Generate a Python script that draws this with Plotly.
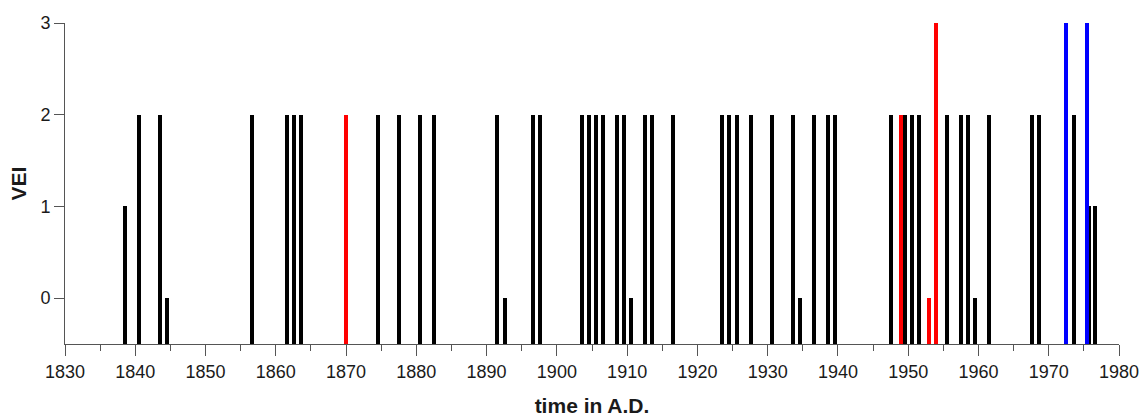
import plotly.graph_objects as go

# ---- data ----
BASE = -0.5  # bars rise from the bottom of the axis

black_years = [1838.55, 1840.55, 1843.55, 1844.55, 1856.55, 1861.55, 1862.55, 1863.55,
               1874.55, 1877.55, 1880.55, 1882.55, 1891.55, 1892.55, 1896.6, 1897.6,
               1903.55, 1904.55, 1905.55, 1906.55, 1908.55, 1909.55, 1910.55, 1912.6,
               1913.6, 1916.55, 1923.55, 1924.55, 1925.6, 1927.6, 1930.55, 1933.55,
               1934.55, 1936.55, 1938.55, 1939.55, 1947.55, 1949.5, 1950.55, 1951.55,
               1955.55, 1957.55, 1958.55, 1959.55, 1961.55, 1967.55, 1968.55, 1973.57,
               1975.77, 1976.55]
black_vei = [1, 2, 2, 0, 2, 2, 2, 2,
             2, 2, 2, 2, 2, 0, 2, 2,
             2, 2, 2, 2, 2, 2, 0, 2,
             2, 2, 2, 2, 2, 2, 2, 2,
             0, 2, 2, 2, 2, 2, 2, 2,
             2, 2, 2, 0, 2, 2, 2, 2,
             1, 1]

red_years = [1870.0, 1949.0, 1953.0, 1954.0]
red_vei = [2, 2, 0, 3]

blue_years = [1972.45, 1975.47]
blue_vei = [3, 3]

x_ticks = list(range(1830, 1981, 10))
y_ticks = [0, 1, 2, 3]

BAR_W = 0.57
FONT = "Liberation Sans, Arial, sans-serif"


def bars(xs, vs, color):
    return go.Bar(
        x=xs,
        y=[v - BASE for v in vs],
        base=BASE,
        width=BAR_W,
        marker=dict(color=color, line=dict(width=0)),
        showlegend=False,
        hoverinfo="x+text",
        text=[str(v) for v in vs],
        textposition="none",
    )


fig = go.Figure()
fig.add_trace(bars(black_years, black_vei, "#000000"))
fig.add_trace(bars(red_years, red_vei, "#ff0000"))
fig.add_trace(bars(blue_years, blue_vei, "#0000ff"))

axis_color = "#555555"
fig.update_layout(
    width=1141,
    height=417,
    margin=dict(l=65, r=22, t=23, b=73, pad=0),
    paper_bgcolor="white",
    plot_bgcolor="white",
    barmode="overlay",
    bargap=0,
    font=dict(family=FONT, size=18, color="#1a1a1a"),
    xaxis=dict(
        range=[1830, 1980],
        tickmode="array",
        tickvals=x_ticks,
        ticktext=[str(t) for t in x_ticks],
        ticks="outside",
        ticklen=11,
        tickwidth=1,
        tickcolor=axis_color,
        minor=dict(dtick=5, tick0=1830, ticks="outside", ticklen=6,
                   tickwidth=1, tickcolor=axis_color, showgrid=False),
        showline=True,
        linecolor=axis_color,
        linewidth=1,
        showgrid=False,
        zeroline=False,
        tickfont=dict(size=18, family=FONT, color="#1a1a1a"),
        title=dict(text="<b>time in A.D.</b>", standoff=21,
                   font=dict(size=21, family=FONT, color="#1a1a1a")),
        automargin=False,
    ),
    yaxis=dict(
        range=[-0.5, 3],
        tickmode="array",
        tickvals=y_ticks,
        ticktext=[str(t) for t in y_ticks],
        ticks="outside",
        ticklen=10,
        tickwidth=1,
        tickcolor=axis_color,
        showline=True,
        linecolor=axis_color,
        linewidth=1,
        showgrid=False,
        zeroline=False,
        tickfont=dict(size=18, family=FONT, color="#1a1a1a"),
        title=dict(text="<b>VEI</b>", standoff=8,
                   font=dict(size=21, family=FONT, color="#1a1a1a")),
        automargin=False,
    ),
)

fig.write_html(
    "out.html",
    config={"displayModeBar": False},
    post_script="document.body.style.margin='0';document.body.style.overflow='hidden';",
)
